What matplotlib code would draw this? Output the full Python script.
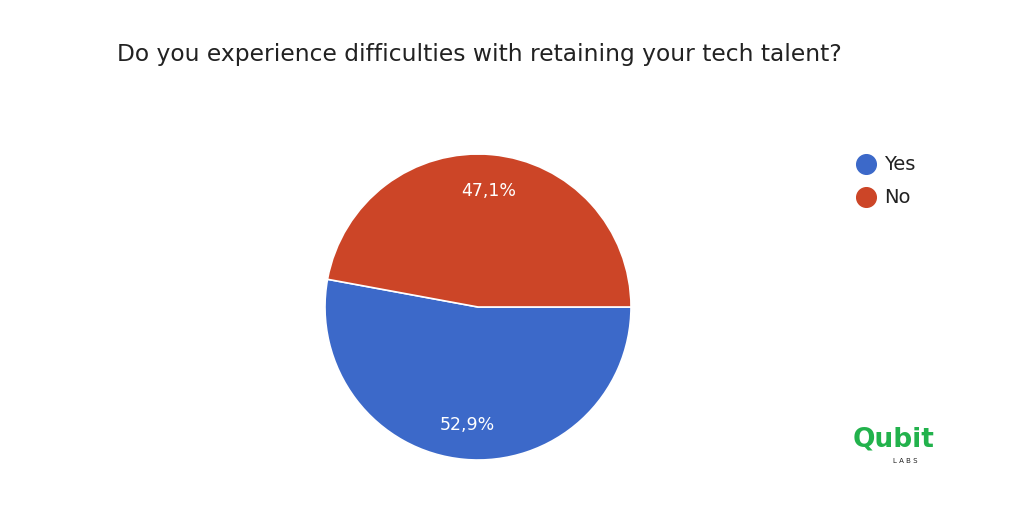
import numpy as np
import matplotlib.pyplot as plt

labels = ['Yes', 'No']
values = [52.9, 47.1]
colors = ['#3c69c9', '#cc4527']

fig = plt.figure(figsize=(10.24, 5.1), dpi=100)
fig.patch.set_facecolor('white')

# pie axes: centre ~ (478, 308) px, radius ~153 px
r = 153
ax = fig.add_axes([(478 - r) / 1024, (510 - 308 - r) / 510, 2 * r / 1024, 2 * r / 510])
wedges, texts = ax.pie(values, colors=colors, startangle=0, counterclock=False,
                       wedgeprops=dict(edgecolor='white', linewidth=1.2))
ax.set_xlim(-1, 1)
ax.set_ylim(-1, 1)
ax.set_aspect('auto')
for w, v in zip(wedges, values):
    ang = np.deg2rad((w.theta1 + w.theta2) / 2)
    ax.text(0.77 * np.cos(ang), 0.77 * np.sin(ang), f'{v:.1f}%'.replace('.', ','),
            color='white', fontsize=12.5, ha='center', va='center')

fig.text(117 / 1024, 1 - 55 / 510, 'Do you experience difficulties with retaining your tech talent?',
         fontsize=16.8, color='#222222', va='center', ha='left')

# legend
lax = fig.add_axes([0, 0, 1, 1], facecolor='none')
lax.set_xlim(0, 1024)
lax.set_ylim(510, 0)
lax.axis('off')
for i, (lab, c) in enumerate(zip(labels, colors)):
    y = 165 + 33 * i
    lax.scatter([866], [y], s=200, color=c)
    lax.text(884, y, lab, fontsize=14, color='#222222', va='center')

# logo
lax.text(853, 440, 'Qubit', fontsize=19, color='#22b24c',
         fontweight='bold', va='center', ha='left')
lax.text(905, 461, 'L A B S', fontsize=5, color='#222222', va='center', ha='center')

fig.savefig('out.png', dpi=100, facecolor='white')
